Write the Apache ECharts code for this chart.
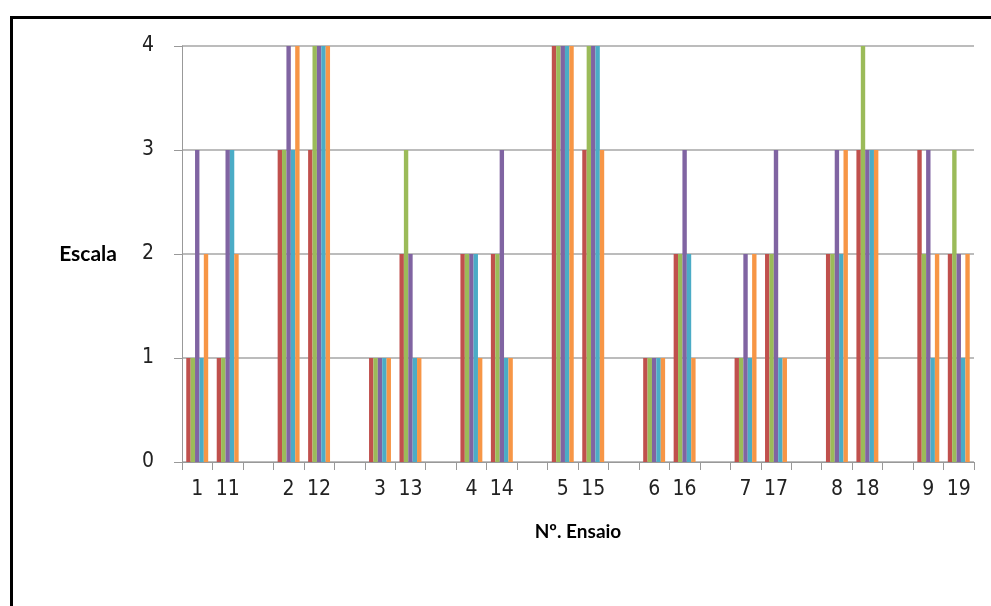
<!DOCTYPE html>
<html>
<head>
<meta charset="utf-8">
<script src="https://cdn.jsdelivr.net/npm/echarts@6/dist/echarts.min.js"></script>
<style>
html,body{margin:0;padding:0;background:#fff;}
#chart{width:991px;height:606px;}
</style>
</head>
<body>
<div id="chart"></div>
<script>
const categories = ['1','11','','2','12','','3','13','','4','14','','5','15','','6','16','','7','17','','8','18','','9','19'];
const seriesNames = ['Série 1','Série 2','Série 3','Série 4','Série 5'];
const serieRed    = [1,1,null,3,3,null,1,2,null,2,2,null,4,3,null,1,2,null,1,2,null,2,3,null,3,2];
const serieGreen  = [1,1,null,3,4,null,1,3,null,2,2,null,4,4,null,1,2,null,1,2,null,2,4,null,2,3];
const seriePurple = [3,3,null,4,4,null,1,2,null,2,3,null,4,4,null,1,3,null,2,3,null,3,3,null,3,2];
const serieAqua   = [1,3,null,3,4,null,1,1,null,2,1,null,4,4,null,1,2,null,1,1,null,2,3,null,1,1];
const serieOrange = [2,2,null,4,4,null,1,1,null,1,1,null,4,3,null,1,1,null,2,1,null,3,3,null,2,2];
const yTicks = [0,1,2,3,4];

const colors = ['#C0504D','#9BBB59','#8064A2','#4BACC6','#F79646'];
const data = [serieRed, serieGreen, seriePurple, serieAqua, serieOrange];
const font = '"Liberation Sans Narrow", "DejaVu Sans Condensed", Lato, sans-serif';
const boldFont = 'Lato, "Open Sans", sans-serif';

const chart = echarts.init(document.getElementById('chart'), null, {renderer:'canvas'});
chart.setOption({
  animation:false,
  backgroundColor:'#fff',
  color: colors,
  graphic:[{
    type:'rect', left:9, top:15, silent:true,
    shape:{x:0,y:0,width:1200,height:800},
    style:{fill:'none', stroke:'#000', lineWidth:3}
  }],
  grid:{left:182, right:17, top:46, bottom:144, containLabel:false},
  xAxis:{
    type:'category',
    data:categories,
    name:'Nº. Ensaio',
    nameLocation:'middle',
    nameGap:60,
    nameTextStyle:{fontFamily:boldFont, fontSize:19, fontWeight:'bold', color:'#000'},
    axisLine:{lineStyle:{color:'#999', width:1}},
    axisTick:{show:true, length:8, lineStyle:{color:'#999'}},
    axisLabel:{interval:0, margin:17, fontFamily:font, fontSize:21, color:'#222'},
    splitLine:{show:false}
  },
  yAxis:{
    type:'value',
    min:0, max:4, interval:1,
    name:'Escala',
    nameLocation:'middle',
    nameRotate:0,
    nameGap:65,
    nameTextStyle:{fontFamily:boldFont, fontSize:21, fontWeight:'bold', color:'#000', align:'right'},
    axisLine:{show:true, lineStyle:{color:'#999', width:1}},
    axisTick:{show:true, length:8, lineStyle:{color:'#999'}},
    axisLabel:{margin:28, fontFamily:font, fontSize:21, color:'#222',
      formatter:function(v){ return yTicks.indexOf(v) >= 0 ? String(v) : ''; }},
    splitLine:{show:true, lineStyle:{color:'#a6a6a6', width:1.5}}
  },
  series: data.map((d,i)=>({
    name: seriesNames[i],
    type:'bar',
    data:d,
    barGap:'0%',
    barCategoryGap:'28%',
    itemStyle:{color:colors[i]}
  }))
});
</script>
</body>
</html>
